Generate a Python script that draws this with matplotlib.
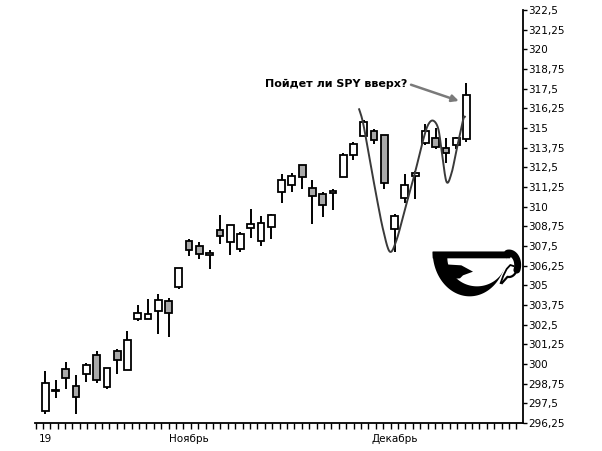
import numpy as np
import matplotlib
matplotlib.use("Agg")
import matplotlib.pyplot as plt
from matplotlib.patches import Rectangle, Polygon
from matplotlib.ticker import FixedLocator, FuncFormatter

# ---- data ----
opens  = [296.99, 298.26, 299.66, 298.58, 299.35, 300.55, 298.56, 300.81, 299.60, 302.84,
          302.84, 303.35, 303.99, 304.88, 307.80, 307.48, 306.91, 308.50, 307.74, 307.29,
          308.63, 307.80, 308.69, 310.92, 311.36, 312.63, 311.17, 310.79, 310.85, 311.87,
          313.27, 314.48, 314.80, 314.54, 308.56, 310.53, 311.93, 314.03, 314.35, 313.71,
          313.90, 314.29]
highs  = [299.56, 298.98, 300.13, 299.28, 300.05, 300.83, 299.73, 300.95, 302.10, 303.75,
          304.13, 304.45, 304.18, 306.08, 307.93, 307.76, 307.25, 309.47, 308.82, 308.39,
          309.85, 309.41, 309.54, 312.10, 312.14, 312.63, 311.68, 310.92, 311.14, 313.39,
          314.09, 315.51, 314.93, 314.54, 309.52, 312.06, 312.27, 315.24, 315.00, 314.35,
          314.45, 317.84]
lows   = [296.84, 297.82, 298.43, 296.84, 298.88, 298.81, 298.43, 299.37, 299.60, 302.75,
          302.84, 301.89, 301.70, 304.75, 306.88, 306.66, 306.02, 307.61, 306.95, 307.14,
          308.03, 307.52, 307.97, 310.25, 310.92, 311.14, 308.92, 309.33, 309.77, 311.87,
          312.99, 314.48, 313.96, 311.10, 307.10, 310.22, 310.51, 313.95, 313.69, 312.76,
          313.65, 314.10]
closes = [298.77, 298.36, 299.09, 297.88, 299.92, 298.96, 299.73, 300.24, 301.51, 303.22,
          303.16, 304.05, 303.22, 306.08, 307.23, 306.97, 307.04, 308.12, 308.82, 308.26,
          308.88, 308.95, 309.45, 311.70, 311.93, 311.87, 310.66, 310.09, 311.00, 313.26,
          313.96, 315.37, 314.22, 311.51, 309.39, 311.36, 312.12, 314.80, 313.78, 313.40,
          314.35, 317.08]

month_pos = [0, 14, 34]
month_labels = ["19", "Ноябрь", "Декабрь"]
y_ticks = [296.25, 297.5, 298.75, 300, 301.25, 302.5, 303.75, 305, 306.25, 307.5, 308.75,
           310, 311.25, 312.5, 313.75, 315, 316.25, 317.5, 318.75, 320, 321.25, 322.5]

# hand-drawn annotation curve (candle index, price)
curve_x = [30.55, 30.94, 31.59, 32.24, 32.89, 33.54, 34.19, 34.99, 35.97, 36.78, 37.26,
           37.75, 38.24, 38.57, 39.05, 39.54, 40.03, 40.67, 40.84]
curve_y = [316.19, 315.30, 312.97, 310.64, 308.52, 307.14, 307.88, 309.79, 312.12, 314.24,
           315.20, 315.47, 314.98, 313.61, 311.59, 312.12, 313.61, 315.51, 315.72]

annot_text = "Пойдет ли SPY вверх?"

plt.rcParams['font.family'] = ['DejaVu Sans']

fig = plt.figure(figsize=(6.02, 4.51), dpi=100)
ax = fig.add_axes([35/602, 28/451, (523-35)/602, (423-10)/451])

w = 0.66
for i, (o, h, l, c) in enumerate(zip(opens, highs, lows, closes)):
    up = c >= o
    lo_b, hi_b = min(o, c), max(o, c)
    ax.plot([i, i], [l, h], color='black', lw=1.4, solid_capstyle='butt', zorder=2)
    ax.add_patch(Rectangle((i - w/2, lo_b), w, max(hi_b - lo_b, 0.06),
                           facecolor='white' if up else '#a9a9a9',
                           edgecolor='black', lw=1.3, zorder=3))

# smooth curve (Catmull-Rom through the read points)
def catmull(xs, ys, n=12):
    P = np.column_stack([xs, ys])
    P = np.vstack([P[0], P, P[-1]])
    out = []
    for k in range(1, len(P) - 2):
        p0, p1, p2, p3 = P[k-1], P[k], P[k+1], P[k+2]
        for t in np.linspace(0, 1, n, endpoint=False):
            t2, t3 = t*t, t*t*t
            out.append(0.5*((2*p1) + (-p0+p2)*t + (2*p0-5*p1+4*p2-p3)*t2 + (-p0+3*p1-3*p2+p3)*t3))
    out.append(P[-2])
    return np.array(out)

cv = catmull(curve_x, curve_y)
ax.plot(cv[:, 0], cv[:, 1], color='#3a3a3a', lw=1.4, zorder=4)

ax.text(28.3, 317.8, annot_text, ha='center', va='center', fontsize=8,
        fontweight='bold', color='black', zorder=5)
ax.annotate("", xy=(40.25, 316.72), xytext=(35.6, 317.75),
            arrowprops=dict(arrowstyle='-|>', color='#7a7a7a', lw=1.8,
                            mutation_scale=10, shrinkA=0, shrinkB=0), zorder=5)

ax.set_xlim(-1.0, 46.5)
ax.set_ylim(296.25, 322.5)

for s in ['top', 'left']:
    ax.spines[s].set_visible(False)
for s in ['bottom', 'right']:
    ax.spines[s].set_linewidth(1.3)

ax.yaxis.tick_right()
ax.yaxis.set_major_locator(FixedLocator(y_ticks))
def fmt(v, pos):
    s = f"{v:.2f}".rstrip('0').rstrip('.')
    return s.replace('.', ',')
ax.yaxis.set_major_formatter(FuncFormatter(fmt))
ax.tick_params(axis='y', direction='out', length=3, width=1, labelsize=7.5, pad=1)

ax.xaxis.set_major_locator(FixedLocator(month_pos))
ax.set_xticklabels(month_labels)
ax.xaxis.set_minor_locator(FixedLocator(np.arange(-0.95, 46.5, 0.72)))
ax.tick_params(axis='x', which='major', length=0, labelsize=7.5, pad=8)
ax.tick_params(axis='x', which='minor', direction='out', length=4, width=1)

# ---- cup logo (decoration) ----
lax = fig.add_axes([428/602, 1 - 305/451, 96/602, 60/451])
lax.set_xlim(0, 288)
lax.set_ylim(180, 0)
lax.axis('off')

def half_ellipse(cx, cy, rx, ry):
    t = np.linspace(0, np.pi, 80)
    return np.column_stack([cx + rx*np.cos(t), cy + ry*np.sin(t)])

lax.add_patch(Polygon(half_ellipse(125, 20, 111, 134), closed=True,
                      facecolor='black', edgecolor='none'))
lax.add_patch(Polygon(half_ellipse(147, 38, 89, 86), closed=True,
                      facecolor='white', edgecolor='none'))
lax.add_patch(Polygon([(14, 20), (240, 20), (256, 24), (246, 40), (14, 40)],
                      closed=True, facecolor='black', edgecolor='none'))
# tongue
lax.add_patch(Polygon([(50, 58), (100, 61), (135, 80), (105, 91), (96, 100), (50, 104)],
                      closed=True, facecolor='black', edgecolor='none'))
# handle
t1 = np.radians(np.linspace(-100, 25, 40))
lax.plot(243 + 26*np.cos(t1), 60 + 36*np.sin(t1), color='black', lw=5,
         solid_capstyle='round', clip_on=False)
t2 = np.radians(np.linspace(25, 100, 30))
hx = list(243 + 26*np.cos(t2)) + [222]
hy = list(60 + 36*np.sin(t2)) + [114]
lax.plot(hx, hy, color='black', lw=1.6, clip_on=False)
lax.plot([218, 226, 236, 247, 256], [114, 92, 72, 60, 63], color='black', lw=1.3,
         clip_on=False)

fig.savefig("out.png", dpi=100)
